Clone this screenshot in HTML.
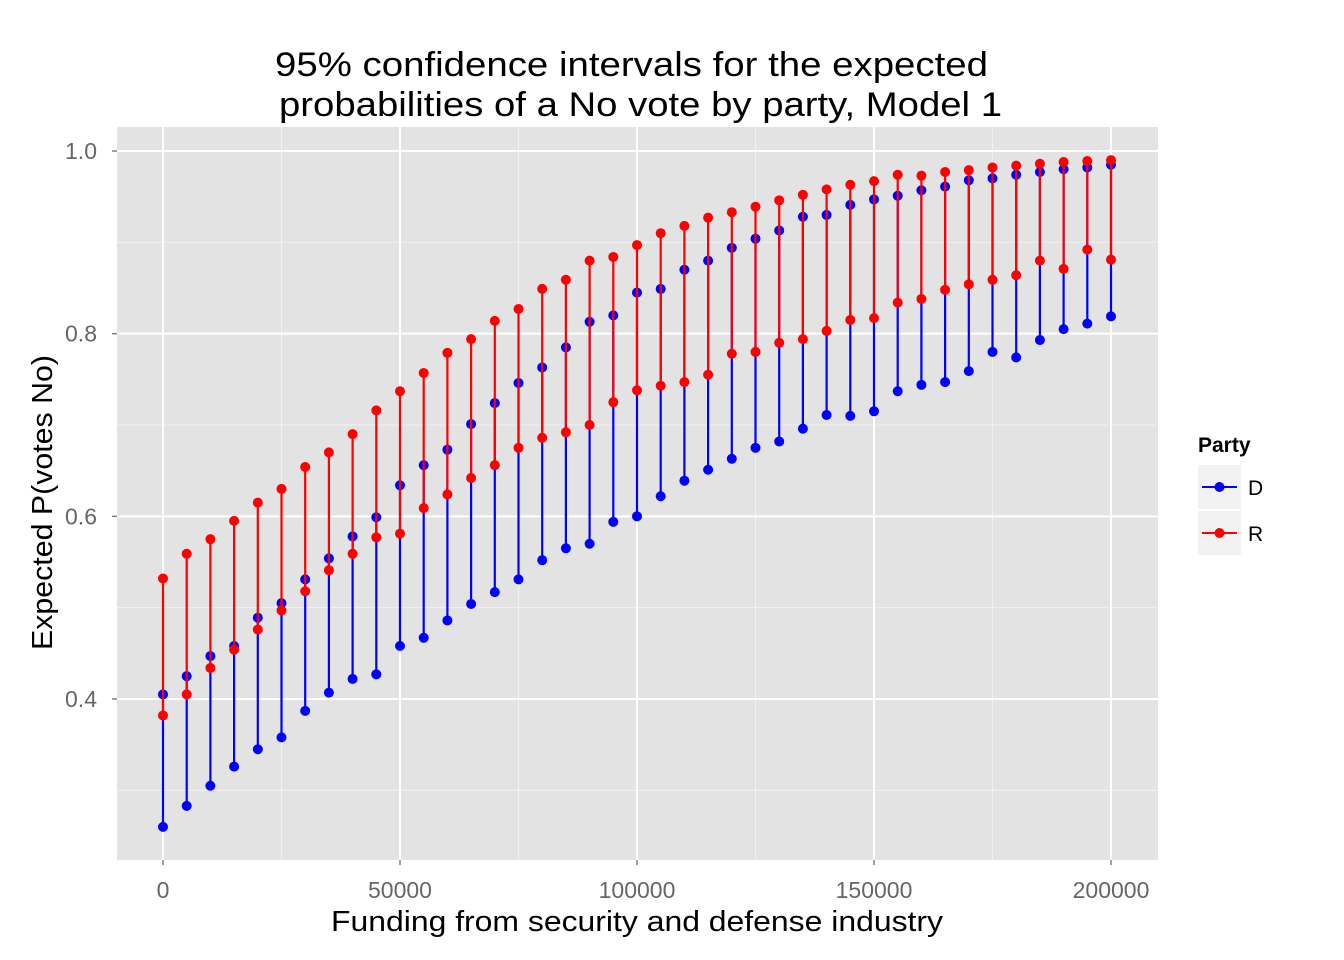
<!DOCTYPE html>
<html><head><meta charset="utf-8"><style>
html,body{margin:0;padding:0;background:#fff;}
svg{display:block;font-family:"Liberation Sans",Arial,sans-serif;}
</style></head><body>
<svg id="chart" width="1344" height="960" viewBox="0 0 1344 960">
<rect x="0" y="0" width="1344" height="960" fill="#fff"/>
<g>
<text x="275" y="76" font-size="34" textLength="713" lengthAdjust="spacingAndGlyphs" fill="#000">95% confidence intervals for the expected</text>
<text x="279" y="116" font-size="34" textLength="723" lengthAdjust="spacingAndGlyphs" fill="#000">probabilities of a No vote by party, Model 1</text>
</g>
<rect x="117" y="127" width="1041" height="733" fill="#e3e3e3"/>
<g id="grid"></g>
<g id="marks"></g>
<g id="ticks"></g>
<text x="331" y="931" font-size="29" textLength="612" lengthAdjust="spacingAndGlyphs">Funding from security and defense industry</text>
<text transform="translate(52,650) rotate(-90)" font-size="29" textLength="295" lengthAdjust="spacingAndGlyphs">Expected P(votes No)</text>
<g>
<text x="1198" y="452" font-size="21" font-weight="bold">Party</text>
<g>
<rect x="1198" y="465" width="43" height="44" fill="#f2f2f2"/>
<line x1="1202" y1="487" x2="1237" y2="487" stroke="#0000ff" stroke-width="2"/>
<circle cx="1219.5" cy="487" r="5" fill="#0000ff"/>
<text x="1248" y="495" font-size="21" fill="#000">D</text>
</g>
<g>
<rect x="1198" y="511" width="43" height="44" fill="#f2f2f2"/>
<line x1="1202" y1="533" x2="1237" y2="533" stroke="#ff0000" stroke-width="2"/>
<circle cx="1219.5" cy="533" r="5" fill="#ff0000"/>
<text x="1248" y="541" font-size="21" fill="#000">R</text>
</g>
</g>
</svg>
<script>
const funding = [];
for (let i = 0; i <= 40; i++) funding.push(i * 5000);
const dUpper = [0.405,0.425,0.447,0.458,0.489,0.505,0.531,0.554,0.578,0.599,0.634,0.656,0.673,0.701,0.724,0.746,0.763,0.785,0.813,0.820,0.845,0.849,0.870,0.880,0.894,0.904,0.913,0.928,0.930,0.941,0.947,0.951,0.957,0.961,0.968,0.970,0.974,0.977,0.980,0.982,0.985];
const dLower = [0.260,0.283,0.305,0.326,0.345,0.358,0.387,0.407,0.422,0.427,0.458,0.467,0.486,0.504,0.517,0.531,0.552,0.565,0.570,0.594,0.600,0.622,0.639,0.651,0.663,0.675,0.682,0.696,0.711,0.710,0.715,0.737,0.744,0.747,0.759,0.780,0.774,0.793,0.805,0.811,0.819];
const rUpper = [0.532,0.559,0.575,0.595,0.615,0.630,0.654,0.670,0.690,0.716,0.737,0.757,0.779,0.794,0.814,0.827,0.849,0.859,0.880,0.884,0.897,0.910,0.918,0.927,0.933,0.939,0.946,0.952,0.958,0.963,0.967,0.974,0.973,0.977,0.979,0.982,0.984,0.986,0.988,0.989,0.990];
const rLower = [0.382,0.405,0.434,0.454,0.476,0.497,0.518,0.541,0.559,0.577,0.581,0.609,0.624,0.642,0.656,0.675,0.686,0.692,0.700,0.725,0.738,0.743,0.747,0.755,0.778,0.780,0.790,0.794,0.803,0.815,0.817,0.834,0.838,0.848,0.854,0.859,0.864,0.880,0.871,0.892,0.881];
const xTicks = [0,50000,100000,150000,200000];
const xTickLabels = ["0","50000","100000","150000","200000"];
const yTicks = [0.4,0.6,0.8,1.0];
const yTickLabels = ["0.4","0.6","0.8","1.0"];

const NS = "http://www.w3.org/2000/svg";
const panel = {l:117, r:1158, t:127, b:860};
function xS(v){ return 163 + (v/200000)*(1111-163); }
function yS(v){ return 151 + (1.0 - v)/0.6*(699-151); }
function mk(tag, attrs, parent){
  const e = document.createElementNS(NS, tag);
  for (const k in attrs) e.setAttribute(k, attrs[k]);
  parent.appendChild(e); return e;
}
const grid = document.getElementById('grid');
const ticks = document.getElementById('ticks');
const marks = document.getElementById('marks');
for (let i = 0; i < xTicks.length - 1; i++) {
  const m = (xTicks[i] + xTicks[i+1]) / 2;
  const l = mk('line', {x1:xS(m), x2:xS(m), y1:panel.t, y2:panel.b, stroke:'#f2f2f2', 'stroke-width':1}, grid);
  
  
}
const yMinor = [0.3,0.5,0.7,0.9];
yMinor.forEach(v => {
  const l = mk('line', {x1:panel.l, x2:panel.r, y1:yS(v), y2:yS(v), stroke:'#f2f2f2', 'stroke-width':1}, grid);
  
  
});
xTicks.forEach((v, i) => {
  const l = mk('line', {x1:xS(v), x2:xS(v), y1:panel.t, y2:panel.b, stroke:'#fff', 'stroke-width':2}, grid);
  
  
  mk('line', {x1:xS(v), x2:xS(v), y1:panel.b, y2:panel.b+5, stroke:'#7f7f7f', 'stroke-width':1.5}, ticks);
  const t = mk('text', {x:xS(v), y:panel.b+38, 'font-size':23, fill:'#666', 'text-anchor':'middle'}, ticks);
  t.textContent = xTickLabels[i];
  
  
});
yTicks.forEach((v, i) => {
  const l = mk('line', {x1:panel.l, x2:panel.r, y1:yS(v), y2:yS(v), stroke:'#fff', 'stroke-width':2}, grid);
  
  
  mk('line', {x1:panel.l-5, x2:panel.l, y1:yS(v), y2:yS(v), stroke:'#7f7f7f', 'stroke-width':1.5}, ticks);
  const t = mk('text', {x:panel.l-20, y:yS(v)+8, 'font-size':23, fill:'#666', 'text-anchor':'end'}, ticks);
  t.textContent = yTickLabels[i];
  
  
});
function series(lo, hi, color, name){
  funding.forEach((f, i) => {
    const g = mk('g', {}, marks);
    
    
    const x = xS(f);
    mk('line', {x1:x, x2:x, y1:yS(lo[i]), y2:yS(hi[i]), stroke:color, 'stroke-width':2.2}, g);
    const c1 = mk('circle', {cx:x, cy:yS(lo[i]), r:5, fill:color}, g);
    
    
    const c2 = mk('circle', {cx:x, cy:yS(hi[i]), r:5, fill:color}, g);
    
    
  });
}
series(dLower, dUpper, '#0000ff', 'd');
series(rLower, rUpper, '#ff0000', 'r');
</script>
</body></html>
